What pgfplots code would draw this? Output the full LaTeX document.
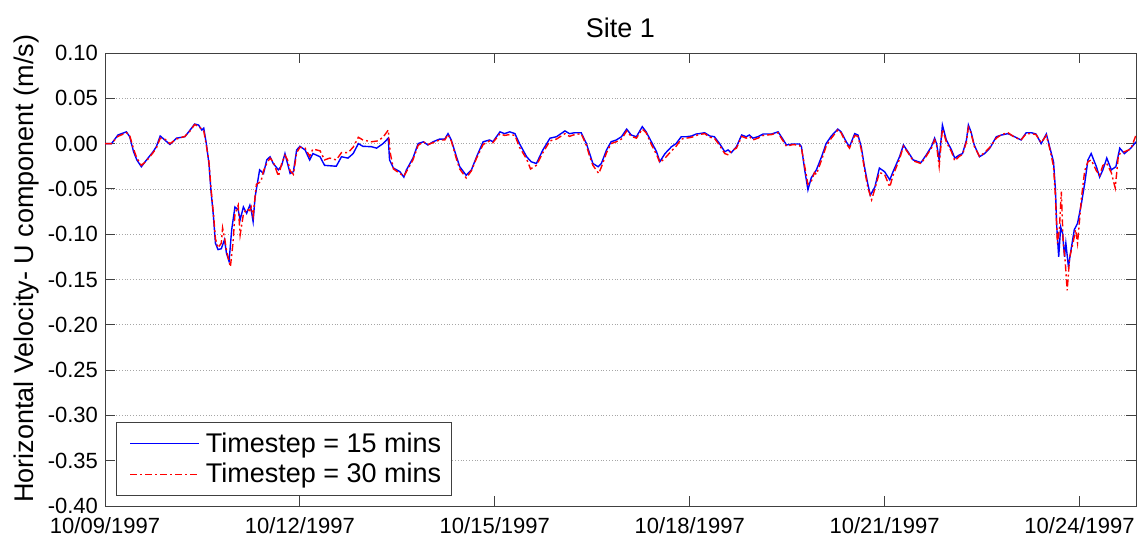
\documentclass[border=0pt]{standalone}
\usepackage{fontspec}
\setmainfont{Liberation Sans}
\usepackage{pgfplots}
\usepackage{pgfplotstable}
\pgfplotsset{compat=1.18}
\definecolor{lineblue}{RGB}{0,0,255}
\definecolor{linered}{RGB}{255,0,0}
\pgfplotstableread{
d v
0 0
0.1 0.0
0.2 0.0095
0.33 0.013
0.38 0.0076
0.44 -0.009
0.49 -0.018
0.56 -0.0255
0.64 -0.018
0.74 -0.009
0.79 -0.0034
0.85 0.0084
0.92 0.004
1.0 -0.001
1.10 0.006
1.23 0.0076
1.31 0.015
1.38 0.0216
1.44 0.0205
1.49 0.015
1.52 0.017
1.56 0.0
1.60 -0.022
1.63 -0.051
1.67 -0.081
1.70 -0.110
1.74 -0.117
1.79 -0.116
1.84 -0.106
1.87 -0.121
1.91 -0.130
1.95 -0.095
2.0 -0.070
2.05 -0.073
2.08 -0.084
2.13 -0.070
2.18 -0.077
2.23 -0.068
2.25 -0.073
2.28 -0.086
2.31 -0.059
2.38 -0.029
2.44 -0.033
2.49 -0.018
2.54 -0.0145
2.59 -0.022
2.67 -0.029
2.72 -0.024
2.77 -0.011
2.81 -0.022
2.85 -0.033
2.90 -0.031
2.95 -0.007
3.0 -0.003
3.08 -0.007
3.15 -0.018
3.20 -0.011
3.31 -0.0145
3.38 -0.024
3.56 -0.025
3.64 -0.0145
3.74 -0.016
3.82 -0.011
3.90 0.0
3.97 -0.003
4.10 -0.0034
4.18 -0.005
4.28 0.0
4.36 0.006
4.38 -0.018
4.44 -0.027
4.54 -0.031
4.60 -0.037
4.64 -0.029
4.74 -0.016
4.82 0.0
4.90 0.002
4.97 -0.0015
5.05 0.002
5.15 0.005
5.23 0.005
5.28 0.011
5.33 0.004
5.41 -0.0145
5.46 -0.0255
5.56 -0.035
5.64 -0.029
5.72 -0.0145
5.82 0.002
5.92 0.004
5.97 0.002
6.08 0.013
6.15 0.011
6.23 0.013
6.31 0.011
6.38 0.0
6.49 -0.0145
6.56 -0.020
6.64 -0.022
6.74 -0.007
6.85 0.006
6.95 0.0076
7.08 0.014
7.15 0.011
7.23 0.012
7.33 0.012
7.41 0.0
7.46 -0.011
7.51 -0.022
7.59 -0.0255
7.64 -0.022
7.72 -0.007
7.79 0.002
7.87 0.004
7.95 0.0076
8.03 0.016
8.10 0.0095
8.18 0.0076
8.27 0.0187
8.33 0.013
8.41 0.002
8.49 -0.009
8.54 -0.020
8.62 -0.011
8.72 -0.0034
8.79 0.0
8.87 0.0076
8.95 0.0076
9.03 0.0084
9.10 0.0106
9.15 0.011
9.23 0.012
9.31 0.0084
9.38 0.0076
9.46 0.0
9.54 -0.009
9.59 -0.007
9.64 -0.010
9.72 -0.0034
9.80 0.0095
9.87 0.0076
9.92 0.0095
9.97 0.006
10.05 0.0076
10.13 0.0106
10.26 0.0106
10.36 0.013
10.41 0.0076
10.49 -0.0015
10.59 -0.0004
10.69 -0.0004
10.72 -0.0034
10.77 -0.029
10.82 -0.051
10.87 -0.038
10.95 -0.029
11.03 -0.0145
11.10 0.0
11.18 0.0084
11.28 0.016
11.33 0.013
11.41 0.002
11.46 -0.0034
11.54 0.011
11.59 0.0095
11.64 -0.0034
11.69 -0.0255
11.74 -0.044
11.78 -0.057
11.85 -0.048
11.92 -0.027
12.0 -0.031
12.08 -0.040
12.13 -0.031
12.23 -0.0145
12.29 -0.0015
12.36 -0.009
12.44 -0.018
12.56 -0.021
12.64 -0.0126
12.72 -0.0034
12.77 0.006
12.80 0.0
12.84 -0.018
12.89 0.0205
12.95 0.004
13.03 -0.007
13.08 -0.016
13.15 -0.0126
13.20 -0.011
13.26 0.004
13.29 0.0205
13.33 0.013
13.38 -0.0015
13.46 -0.0145
13.54 -0.011
13.62 -0.005
13.72 0.0076
13.80 0.0095
13.90 0.011
14.0 0.0076
14.10 0.004
14.18 0.012
14.26 0.012
14.33 0.0106
14.41 0.0
14.49 0.0106
14.54 -0.0034
14.60 -0.020
14.63 -0.051
14.65 -0.092
14.68 -0.125
14.71 -0.092
14.74 -0.099
14.77 -0.125
14.79 -0.110
14.83 -0.136
14.87 -0.117
14.92 -0.095
14.97 -0.088
15.03 -0.066
15.08 -0.044
15.13 -0.018
15.18 -0.011
15.26 -0.0255
15.31 -0.037
15.36 -0.029
15.42 -0.016
15.49 -0.029
15.56 -0.0255
15.62 -0.005
15.69 -0.011
15.79 -0.005
15.87 0.002
}\fifteen
\pgfplotstableread{
d v
0 0
0.1 0.0
0.2 0.008
0.33 0.012
0.38 0.009
0.44 -0.006
0.49 -0.016
0.56 -0.024
0.64 -0.019
0.74 -0.010
0.79 -0.005
0.85 0.006
0.92 0.005
1.0 0.000
1.10 0.005
1.23 0.008
1.31 0.014
1.38 0.021
1.44 0.019
1.49 0.016
1.52 0.014
1.56 -0.002
1.60 -0.020
1.63 -0.048
1.67 -0.078
1.70 -0.105
1.74 -0.115
1.79 -0.110
1.81 -0.093
1.84 -0.104
1.87 -0.118
1.93 -0.136
1.97 -0.110
2.0 -0.078
2.05 -0.068
2.08 -0.101
2.13 -0.078
2.18 -0.072
2.23 -0.074
2.25 -0.070
2.28 -0.080
2.33 -0.045
2.40 -0.042
2.44 -0.030
2.49 -0.022
2.54 -0.016
2.59 -0.020
2.67 -0.036
2.72 -0.022
2.77 -0.013
2.81 -0.018
2.85 -0.030
2.90 -0.034
2.95 -0.010
3.0 -0.004
3.08 -0.005
3.15 -0.014
3.20 -0.006
3.31 -0.008
3.38 -0.018
3.46 -0.016
3.56 -0.018
3.64 -0.010
3.74 -0.010
3.82 -0.004
3.90 0.007
3.97 0.004
4.10 0.002
4.20 0.003
4.28 0.007
4.36 0.015
4.39 -0.010
4.44 -0.028
4.54 -0.033
4.60 -0.036
4.64 -0.031
4.74 -0.018
4.82 -0.002
4.90 0.002
4.97 -0.001
5.05 0.001
5.15 0.004
5.23 0.004
5.28 0.010
5.33 0.003
5.41 -0.017
5.46 -0.028
5.56 -0.038
5.64 -0.030
5.72 -0.016
5.82 -0.001
5.92 0.003
5.97 0.001
6.08 0.011
6.15 0.009
6.23 0.010
6.31 0.009
6.38 -0.004
6.49 -0.017
6.55 -0.028
6.64 -0.024
6.74 -0.010
6.85 0.003
6.95 0.005
7.08 0.011
7.15 0.008
7.23 0.010
7.33 0.011
7.41 -0.002
7.46 -0.014
7.51 -0.024
7.60 -0.033
7.64 -0.026
7.72 -0.010
7.79 0.000
7.87 0.002
7.95 0.005
8.03 0.014
8.10 0.008
8.18 0.006
8.27 0.016
8.33 0.012
8.41 -0.001
8.49 -0.012
8.54 -0.021
8.62 -0.016
8.72 -0.008
8.79 -0.003
8.87 0.005
8.95 0.006
9.03 0.007
9.10 0.009
9.15 0.010
9.23 0.011
9.31 0.007
9.38 0.006
9.46 -0.002
9.54 -0.011
9.60 -0.0126
9.64 -0.008
9.72 -0.005
9.80 0.008
9.87 0.006
9.92 0.008
9.97 0.004
10.05 0.006
10.13 0.009
10.26 0.010
10.36 0.012
10.41 0.006
10.49 -0.003
10.59 -0.001
10.69 -0.002
10.72 -0.005
10.77 -0.025
10.82 -0.045
10.87 -0.042
10.92 -0.032
10.95 -0.034
11.03 -0.018
11.10 -0.003
11.18 0.006
11.28 0.015
11.33 0.012
11.41 0.000
11.46 -0.005
11.54 0.009
11.59 0.008
11.64 -0.006
11.69 -0.028
11.74 -0.048
11.80 -0.062
11.85 -0.050
11.92 -0.032
12.0 -0.034
12.08 -0.048
12.13 -0.035
12.23 -0.017
12.29 -0.003
12.36 -0.010
12.44 -0.019
12.56 -0.022
12.64 -0.014
12.72 -0.005
12.77 0.004
12.80 -0.002
12.84 -0.025
12.89 0.016
12.95 0.002
13.03 -0.009
13.08 -0.019
13.15 -0.014
13.20 -0.012
13.26 0.002
13.29 0.018
13.33 0.012
13.38 -0.003
13.46 -0.014
13.54 -0.010
13.62 -0.004
13.72 0.006
13.80 0.010
13.90 0.012
14.0 0.007
14.10 0.004
14.18 0.011
14.26 0.011
14.33 0.010
14.41 0.001
14.49 0.009
14.54 -0.005
14.60 -0.025
14.63 -0.060
14.66 -0.110
14.69 -0.095
14.72 -0.053
14.75 -0.110
14.78 -0.130
14.81 -0.162
14.85 -0.125
14.90 -0.110
14.94 -0.095
14.97 -0.110
15.03 -0.060
15.08 -0.030
15.13 -0.020
15.18 -0.018
15.26 -0.030
15.31 -0.035
15.36 -0.024
15.42 -0.022
15.49 -0.032
15.55 -0.049
15.60 -0.012
15.69 -0.009
15.79 -0.006
15.87 0.0095
}\thirty
\begin{document}
\begin{tikzpicture}
\begin{axis}[
  scale only axis, width=515.5pt, height=226.5pt,
  xmin=0, xmax=15.87, ymin=-0.4, ymax=0.1,
  xtick={0,3,6,9,12,15},
  xticklabels={10/09/1997,10/12/1997,10/15/1997,10/18/1997,10/21/1997,10/24/1997},
  ytick={-0.4,-0.35,-0.3,-0.25,-0.2,-0.15,-0.1,-0.05,0,0.05,0.1},
  yticklabels={-0.40,-0.35,-0.30,-0.25,-0.20,-0.15,-0.10,-0.05,0.00,0.05,0.10},
  ticklabel style={font=\fontsize{11}{13}\selectfont},
  xticklabel style={yshift=-2pt},
  ymajorgrids, grid style={densely dotted, black!35, line width=0.4pt},
  tick align=inside, major tick length=5pt, tick pos=both,
  axis line style={black!75, line width=0.5pt},
  tick style={black!75, line width=0.5pt},
  title={Site 1},
  title style={font=\fontsize{13.5}{16}\selectfont, anchor=base, yshift=2pt, inner sep=0pt},
  ylabel={Horizontal Velocity- U component (m/s)},
  ylabel style={font=\fontsize{13.5}{16}\selectfont, at={(axis description cs:-0.0698,0.524)}, anchor=base, inner sep=0pt},
  legend style={at={(axis description cs:0,0)}, anchor=south west, xshift=5.5pt, yshift=5pt,
    font=\fontsize{13.5}{16}\selectfont,
    inner xsep=3pt, inner ysep=3pt, row sep=0pt},
  every axis legend/.append style={draw=black!75},
  legend cell align=left,
  legend image code/.code={\path (0pt,0pt) (39pt,0pt); \draw[#1,line width=0.6pt] (3.5pt,0pt) -- (38pt,0pt);},
]
\addplot[lineblue, line width=0.7pt] table[x=d, y=v] {\fifteen};
\addlegendentry{Timestep = 15 mins}
\addplot[linered, line width=0.7pt, dash pattern=on 3.5pt off 1.5pt on 1pt off 1.5pt] table[x=d, y=v] {\thirty};
\addlegendentry{Timestep = 30 mins}
\end{axis}
\pgfresetboundingbox
\path ([shift={(-52.5pt,-17pt)}]current axis.south west) rectangle ([shift={(1pt,26.5pt)}]current axis.north east);
\end{tikzpicture}
\end{document}
